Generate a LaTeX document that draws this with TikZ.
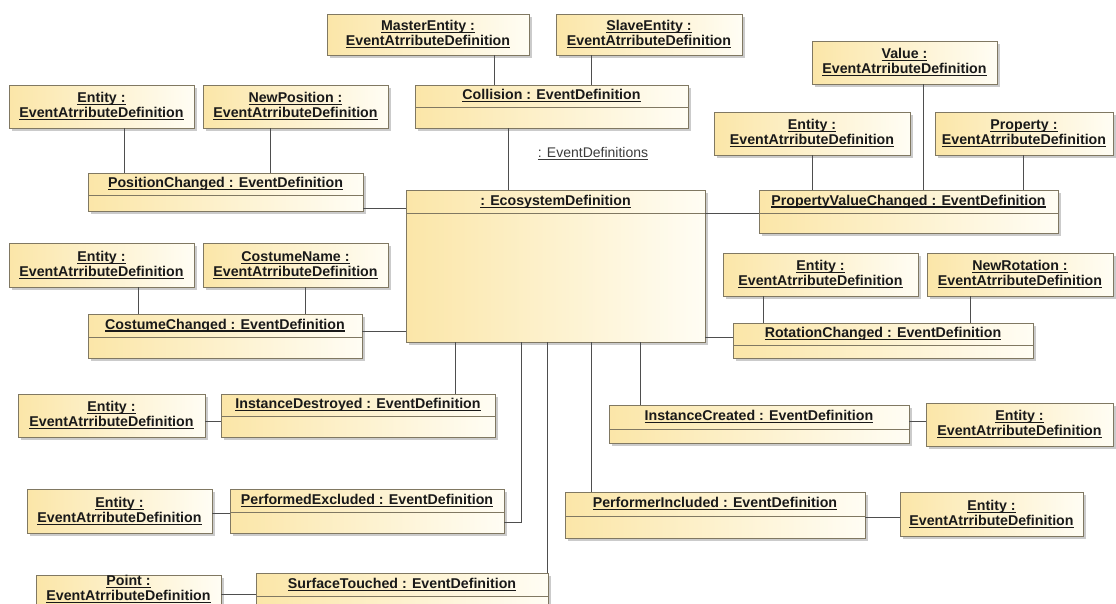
\documentclass[tikz,border=0pt]{standalone}
\usepackage{fontspec}
\setmainfont{Liberation Sans}
\usetikzlibrary{shadows,calc}

% underline drawn at a fixed depth below the baseline
\newsavebox\undlbox
\newcommand\undl[1]{\sbox\undlbox{#1}\leavevmode
  \rlap{\rule[-2.4pt]{\wd\undlbox}{1.05pt}}\usebox\undlbox}

\definecolor{boxL}{RGB}{251,230,168}
\definecolor{boxR}{RGB}{255,253,244}
\definecolor{edgec}{RGB}{128,120,98}
\definecolor{linkc}{RGB}{78,78,78}
\definecolor{labelc}{RGB}{60,60,60}

\tikzset{
  umlbox/.style={draw=edgec, line width=0.7pt, left color=boxL, right color=boxR,
    drop shadow={shadow xshift=3pt, shadow yshift=-3pt, fill=black!40, opacity=0.5},
    inner sep=0pt, outer sep=0pt, anchor=north west},
  attr/.style={umlbox, align=center, font=\bfseries\fontsize{14.2}{15}\selectfont, text=black!90},
  evdef/.style={umlbox},
  evtitle/.style={inner sep=0pt, font=\bfseries\fontsize{14.2}{15}\selectfont, text=black!90},
  divider/.style={draw=edgec, line width=0.7pt},
  link/.style={draw=linkc, line width=0.8pt},
  evlabel/.style={inner sep=0pt, font=\fontsize{14}{15}\selectfont, text=labelc},
}

% attribute instance: name, x, y, width, height, attribute name
\newcommand\AttrBox[6]{%
  \node[attr, minimum width=#4pt, minimum height=#5pt] (#1) at (#2,#3)
    {\undl{#6 :}\\\undl{EventAtrributeDefinition}};}

% event instance with a title compartment: name, x, y, width, height, title height, title
\newcommand\EvBox[7]{%
  \node[evdef, minimum width=#4pt, minimum height=#5pt] (#1) at (#2,#3) {};
  \draw[divider] ($(#1.north west)+(0,#6)$) -- ($(#1.north east)+(0,#6)$);
  \node[evtitle] (#1-title) at ($(#1.north)+(0,#6/2)$) {\undl{#7}};}

\begin{document}
\begin{tikzpicture}[x=1pt, y=-1pt]
  \clip (0,0) rectangle (1116,603);
  \fill[white] (0,0) rectangle (1116,603);

  % central instance
  \EvBox{eco}{406}{190}{299}{152}{23}{: EcosystemDefinition}

  % event definitions
  \EvBox{coll}{415}{85}{273}{43}{22}{Collision : EventDefinition}
  \EvBox{pc}{88}{173}{275}{38}{22}{PositionChanged : EventDefinition}
  \EvBox{pvc}{759}{190}{299}{43}{23}{PropertyValueChanged : EventDefinition}
  \EvBox{cc}{88}{314}{274}{44}{23}{CostumeChanged : EventDefinition}
  \EvBox{rc}{733}{323}{300}{35}{22}{RotationChanged : EventDefinition}
  \EvBox{id}{221}{394}{274}{43}{22}{InstanceDestroyed : EventDefinition}
  \EvBox{pe}{230}{489}{274}{44}{23}{PerformedExcluded : EventDefinition}
  \EvBox{st}{256}{573}{292}{45}{23}{SurfaceTouched : EventDefinition}
  \EvBox{ic}{609}{405}{300}{38}{24}{InstanceCreated : EventDefinition}
  \EvBox{pi}{565}{492}{300}{46}{24}{PerformerIncluded : EventDefinition}

  % event attributes
  \AttrBox{me}{327}{14}{202}{41}{MasterEntity}
  \AttrBox{se}{556}{14}{186}{41}{SlaveEntity}
  \AttrBox{pcE}{9}{85}{185}{43}{Entity}
  \AttrBox{pcN}{203}{85}{185}{43}{NewPosition}
  \AttrBox{pvV}{812}{41}{185}{43}{Value}
  \AttrBox{pvE}{714}{112}{196}{43}{Entity}
  \AttrBox{pvP}{935}{112}{178}{43}{Property}
  \AttrBox{ccE}{9}{243}{185}{44}{Entity}
  \AttrBox{ccN}{203}{243}{185}{44}{CostumeName}
  \AttrBox{rcE}{723}{253}{195}{43}{Entity}
  \AttrBox{rcN}{927}{253}{186}{43}{NewRotation}
  \AttrBox{idE}{18}{394}{187}{43}{Entity}
  \AttrBox{peE}{27}{489}{185}{44}{Entity}
  \AttrBox{stP}{36}{575}{185}{29}{Point}
  \AttrBox{icE}{926}{403}{187}{43}{Entity}
  \AttrBox{piE}{900}{492}{183}{44}{Entity}

  % role label of the event definitions
  \node[evlabel] (evdefs) at (593,154) {\undl{: EventDefinitions}};

  % links from attributes to their events
  \draw[link] (me.south -| 494,0) -- (coll.north -| 494,0);
  \draw[link] (se.south -| 591,0) -- (coll.north -| 591,0);
  \draw[link] (pcE.south -| 124,0) -- (pc.north -| 124,0);
  \draw[link] (pcN.south -| 270,0) -- (pc.north -| 270,0);
  \draw[link] (pvV.south -| 923,0) -- (pvc.north -| 923,0);
  \draw[link] (pvE.south -| 812,0) -- (pvc.north -| 812,0);
  \draw[link] (pvP.south -| 1023,0) -- (pvc.north -| 1023,0);
  \draw[link] (ccE.south -| 138,0) -- (cc.north -| 138,0);
  \draw[link] (ccN.south -| 305,0) -- (cc.north -| 305,0);
  \draw[link] (rcE.south -| 763,0) -- (rc.north -| 763,0);
  \draw[link] (rcN.south -| 970,0) -- (rc.north -| 970,0);
  \draw[link] (idE.east |- 0,421) -- (id.west |- 0,421);
  \draw[link] (peE.east |- 0,513) -- (pe.west |- 0,513);
  \draw[link] (stP.east |- 0,594) -- (st.west |- 0,594);
  \draw[link] (ic.east |- 0,421) -- (icE.west |- 0,421);
  \draw[link] (pi.east |- 0,517) -- (piE.west |- 0,517);

  % links from the ecosystem to its events
  \draw[link] (coll.south -| 508,0) -- (eco.north -| 508,0);
  \draw[link] (pc.east |- 0,208) -- (eco.west |- 0,208);
  \draw[link] (cc.east |- 0,331) -- (eco.west |- 0,331);
  \draw[link] (eco.east |- 0,213) -- (pvc.west |- 0,213);
  \draw[link] (eco.east |- 0,337) -- (rc.west |- 0,337);
  \draw[link] (eco.south -| 455,0) -- (id.north -| 455,0);
  \draw[link] (eco.south -| 521,0) |- (pe.east |- 0,522);
  \draw[link] (eco.south -| 547,0) -- (st.north -| 547,0);
  \draw[link] (eco.south -| 591,0) -- (pi.north -| 591,0);
  \draw[link] (eco.south -| 640,0) -- (ic.north -| 640,0);
\end{tikzpicture}
\end{document}
